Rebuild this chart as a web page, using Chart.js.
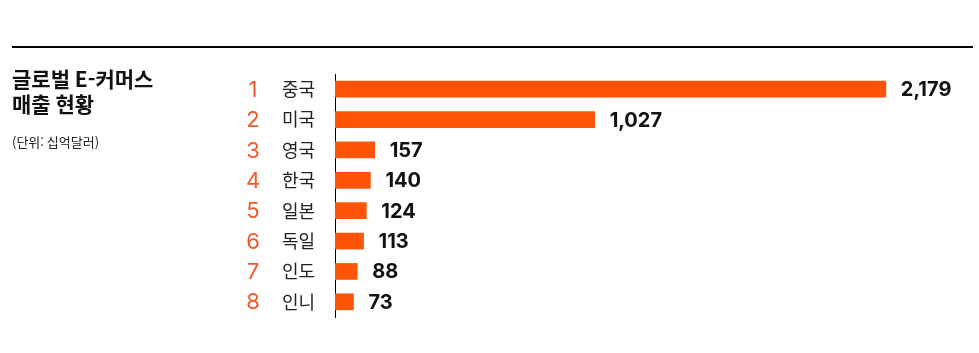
<!DOCTYPE html>
<html lang="ko">
<head>
<meta charset="utf-8">
<script src="https://cdn.jsdelivr.net/npm/chart.js@4"></script>
<style>
  html, body { margin: 0; padding: 0; background: #fff; }
  #wrap { width: 979px; height: 353px; position: relative; }
</style>
</head>
<body>
<div id="wrap"><canvas id="salesChart"></canvas></div>
<script>
// Global e-commerce sales (billion USD)
const countries = ['중국', '미국', '영국', '한국', '일본', '독일', '인도', '인니'];
const ranks = ['1', '2', '3', '4', '5', '6', '7', '8'];
const sales = [2179, 1027, 157, 140, 124, 113, 88, 73];

const titleLines = ['글로벌 E-커머스', '매출 현황'];
const unitText = '(단위: 십억달러)';

const ORANGE = '#ff5408';
const KR_FONT = "'Noto Sans CJK KR', 'Noto Sans', sans-serif";
const NUM_FONT = "'Inter', 'Noto Sans', sans-serif";

// Draws the header rule, title, rank numbers and value labels
const decorPlugin = {
    id: 'decor',
    afterDraw(chart) {
        const ctx = chart.ctx;
        const yScale = chart.scales.y;
        ctx.save();

        // top rule
        ctx.strokeStyle = '#000';
        ctx.lineWidth = 2;
        ctx.beginPath();
        ctx.moveTo(12, 47);
        ctx.lineTo(973, 47);
        ctx.stroke();

        // title + unit
        ctx.fillStyle = '#111';
        ctx.textAlign = 'left';
        ctx.textBaseline = 'middle';
        ctx.font = "bold 21px " + KR_FONT;
        ctx.fillText(titleLines[0], 12, 79);
        ctx.fillText(titleLines[1], 12, 104);
        ctx.font = "13px " + KR_FONT;
        ctx.fillStyle = '#222';
        ctx.fillText(unitText, 12, 142);

        // rank numbers
        ctx.fillStyle = '#f05a28';
        ctx.textAlign = 'center';
        ctx.font = "22px " + NUM_FONT;
        ranks.forEach((r, i) => {
            ctx.fillText(r, 253, yScale.getPixelForValue(i) + 1);
        });

        // value labels
        const meta = chart.getDatasetMeta(0);
        ctx.fillStyle = '#111';
        ctx.textAlign = 'left';
        ctx.font = "bold 20px " + NUM_FONT;
        meta.data.forEach((bar, i) => {
            ctx.fillText(sales[i].toLocaleString('en-US'), bar.x + 15, bar.y + 1);
        });
        ctx.restore();
    }
};

new Chart(document.getElementById('salesChart'), {
    type: 'bar',
    data: {
        labels: countries,
        datasets: [{
            data: sales,
            backgroundColor: ORANGE,
            borderWidth: 0,
            barThickness: 16
        }]
    },
    options: {
        indexAxis: 'y',
        responsive: true, maintainAspectRatio: false,
        animation: false,
        layout: { padding: { top: 74, bottom: 36, left: 0, right: 12 } },
        plugins: { legend: { display: false }, tooltip: { enabled: false } },
        scales: {
            x: {
                display: false,
                min: 0, max: 2500,
                grid: { display: false }
            },
            y: {
                afterFit: s => { s.width = 335; },
                grid: { display: false },
                border: { display: true, color: '#000', width: 1 },
                ticks: {
                    padding: 12,
                    color: '#222',
                    font: { size: 18, family: KR_FONT }
                }
            }
        }
    },
    plugins: [decorPlugin]
});
</script>
</body>
</html>
